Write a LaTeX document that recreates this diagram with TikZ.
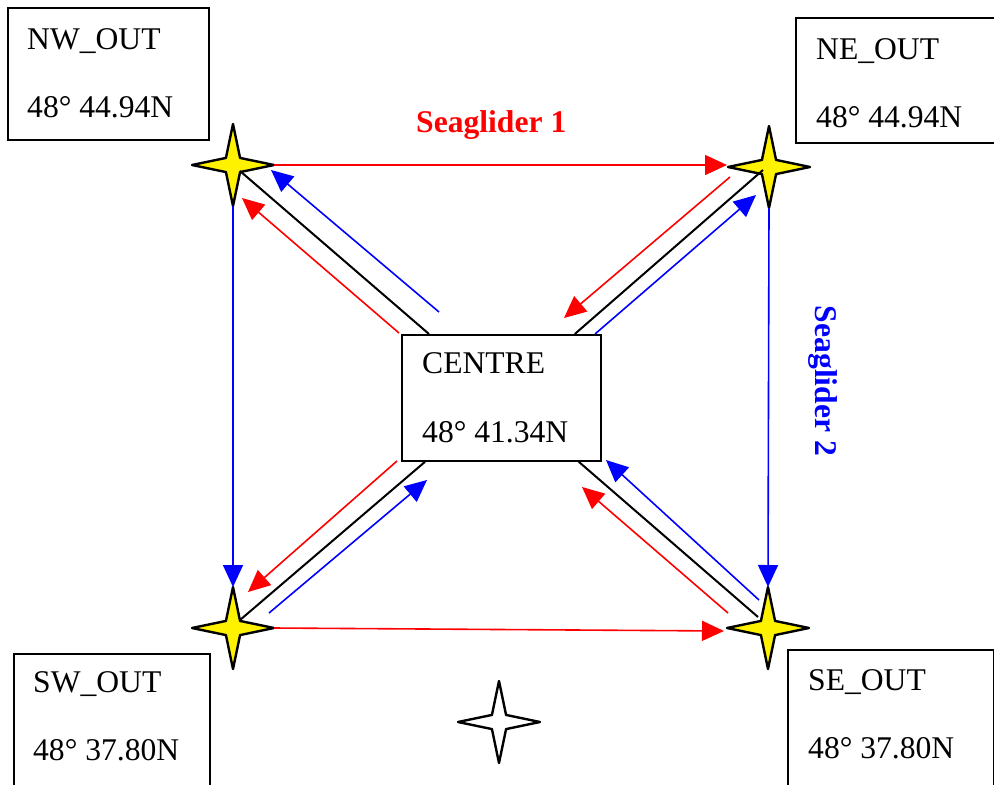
\documentclass[tikz,border=0pt]{standalone}
\usepackage{fontspec}
\setmainfont{Liberation Serif}
\usetikzlibrary{arrows.meta,shapes.geometric,calc}
\begin{document}
\begin{tikzpicture}[x=1pt,y=-1pt,
  box/.style={draw, line width=1.8pt, rectangle, inner sep=0pt, anchor=north west},
  lbl/.style={anchor=base west, inner sep=0pt, font=\fontsize{31.6}{38}\selectfont},
  gstar/.style={star, star points=4, star point ratio=4.1, minimum size=82pt, inner sep=0pt, outer sep=0pt, draw, line width=2.4pt, fill=yellow, line join=round},
  rarr/.style={red, line width=1.6pt, -{Triangle[length=22pt,width=20pt]}},
  barr/.style={blue, line width=1.6pt, -{Triangle[length=22pt,width=20pt]}},
  link/.style={black, line width=2pt}]
\useasboundingbox (0,0) rectangle (994,785);
\clip (0,0) rectangle (994,785);

% boxes
\node[box, minimum width=201pt, minimum height=132pt] (nwbox) at (7,7) {};
\node[box, minimum width=210pt, minimum height=125pt] (nebox) at (795,17) {};
\node[box, minimum width=196pt, minimum height=150pt] (swbox) at (13,653) {};
\node[box, minimum width=206pt, minimum height=150pt] (sebox) at (787,649) {};
\node[box, minimum width=199pt, minimum height=126pt] (centre) at (401,334) {};

% box texts
\node[lbl] (nwt1) at (27,49) {NW\_OUT};
\node[lbl] (nwt2) at (27,117) {48° 44.94N};
\node[lbl] (net1) at (816,59) {NE\_OUT};
\node[lbl] (net2) at (816,127) {48° 44.94N};
\node[lbl] (swt1) at (33,692) {SW\_OUT};
\node[lbl] (swt2) at (33,760) {48° 37.80N};
\node[lbl] (set1) at (808,690) {SE\_OUT};
\node[lbl] (set2) at (808,758) {48° 37.80N};
\node[lbl] (ct1) at (422,373) {CENTRE};
\node[lbl] (ct2) at (422,442) {48° 41.34N};

% stars
\node[gstar] (nw) at (233,165) {};
\node[gstar] (ne) at (769,167) {};
\node[gstar] (sw) at (233,628) {};
\node[gstar] (se) at (768,628) {};
\node[gstar, fill=white] (mark) at (499,722) {};

% black links
\draw[link] ($(nw)+(7,6)$) -- ($(centre.north west)+(28,0)$);
\draw[link] ($(ne)+(-6,3)$) -- ($(centre.north east)+(-27,0)$);
\draw[link] ($(centre.south west)+(24,0)$) -- ($(sw)+(7,-8)$);
\draw[link] ($(centre.south east)+(-23,0)$) -- ($(se)+(-10,-11)$);

% free ends of diagonal arrows
\coordinate (rnwS) at (399,333);  \coordinate (rnwT) at (242,198);
\coordinate (bnwS) at (439,312);  \coordinate (bnwT) at (271,170);
\coordinate (rneS) at (730,177);  \coordinate (rneT) at (564,318);
\coordinate (bneS) at (595,334);  \coordinate (bneT) at (756,195);
\coordinate (rswS) at (397,461);  \coordinate (rswT) at (248,592);
\coordinate (bswS) at (269,613);  \coordinate (bswT) at (427,480);
\coordinate (rseS) at (728,613);  \coordinate (rseT) at (582,487);
\coordinate (bseS) at (759,600);  \coordinate (bseT) at (606,460);

\draw[rarr] (rnwS) -- (rnwT);
\draw[barr] (bnwS) -- (bnwT);
\draw[rarr] (rneS) -- (rneT);
\draw[barr] (bneS) -- (bneT);
\draw[rarr] (rswS) -- (rswT);
\draw[barr] (bswS) -- (bswT);
\draw[rarr] (rseS) -- (rseT);
\draw[barr] (bseS) -- (bseT);

% perimeter arrows
\draw[rarr] (nw.east) -- ($(ne.west)+(-1,-2)$);
\draw[rarr] (sw.east) -- ($(se.west)+(-3,3)$);
\draw[barr] (nw.south) -- (sw.north);
\draw[barr] (ne.south) -- (se.north);

% labels
\node[lbl, red, font=\fontsize{31.6}{38}\selectfont\bfseries] (sg1) at (416,132) {Seaglider 1};
\node[blue, rotate=-90, inner sep=0pt, font=\fontsize{31.6}{38}\selectfont\bfseries] (sg2) at (823,381) {Seaglider 2};
\end{tikzpicture}
\end{document}
